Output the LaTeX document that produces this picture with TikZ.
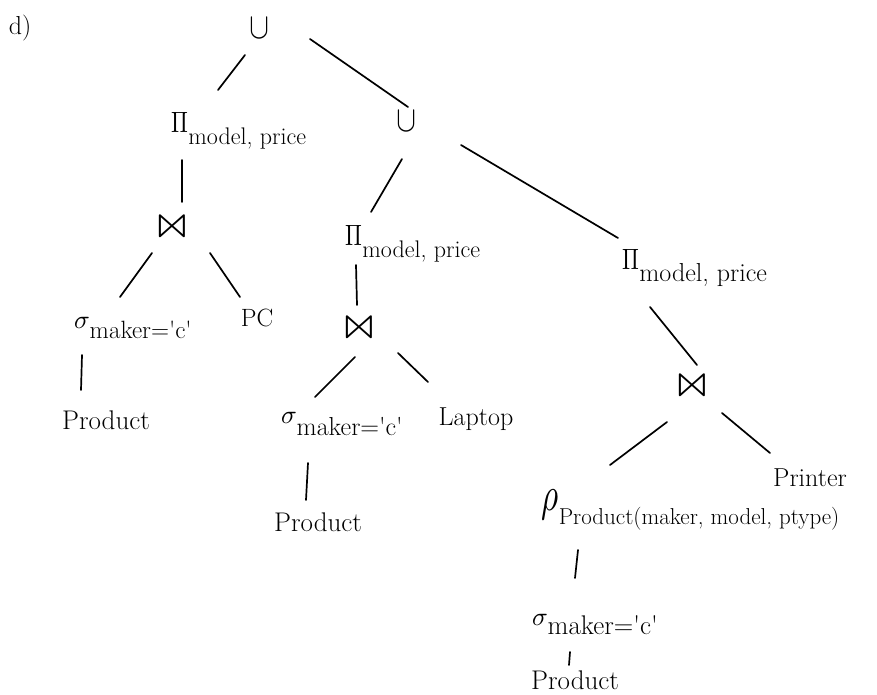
\documentclass[tikz,border=0pt]{standalone}
\usepackage{unicode-math}
\newcommand{\fs}[1]{\fontsize{#1}{#1}\selectfont}
\newcommand{\qq}{\textquotesingle}
\newcommand{\opsub}[3]{#1\rlap{\smash{\raisebox{#2}{#3}}}}
\newcommand{\bigpi}{\scalebox{0.8}[1.05]{\fs{28}$\Pi$}}
\newcommand{\bigbt}{\scalebox{1.7}[1.5]{\fs{30}$\bowtie$}}
\begin{document}
\begin{tikzpicture}[x=1pt,y=-1pt,
  lbl/.style={inner sep=0pt,font=\fs{26}},
  edge/.style={line width=1.7pt,line cap=round}]
\useasboundingbox (0,0) rectangle (877,695);
\node[lbl] (d) at (20,28) {d)};
\node[lbl] (u1) at (260,28) {\scalebox{1}[1.2]{\fs{30}$\cup$}};
\node[lbl] (p1) at (180,123) {\opsub{\bigpi}{-12pt}{\fs{24}model, price}};
\node[lbl] (j1) at (172,226) {\bigbt};
\node[lbl] (s1) at (82,323) {\opsub{$\sigma$}{-10pt}{\fs{25}maker=\qq c\qq}};
\node[lbl,font=\fs{25}] (pc) at (257,318) {PC};
\node[lbl,font=\fs{27}] (prod1) at (106,420) {Product};
\node[lbl] (u2) at (406,121) {\scalebox{1}[1.2]{\fs{30}$\cup$}};
\node[lbl] (p2) at (354,236) {\opsub{\bigpi}{-12pt}{\fs{24}model, price}};
\node[lbl] (j2) at (359,327) {\bigbt};
\node[lbl] (s2) at (289,418) {\opsub{$\sigma$}{-12pt}{\fs{26}maker=\qq c\qq}};
\node[lbl] (lap) at (476,419) {Laptop};
\node[lbl,font=\fs{27}] (prod2) at (318,522) {Product};
\node[lbl] (p3) at (631,260) {\opsub{\bigpi}{-12pt}{\fs{26}model, price}};
\node[lbl] (j3) at (692,385) {\bigbt};
\node[lbl,font=\fs{26}] (pr) at (810,478) {Printer};
\node[lbl] (rho) at (550,505) {\opsub{\scalebox{1.1}[1.6]{\fs{30}$\rho$}}{-14pt}{\fs{23}Product(maker, model, ptype)}};
\node[lbl] (s3) at (540,620) {\opsub{$\sigma$}{-9pt}{\fs{27}maker=\qq c\qq}};
\node[lbl,font=\fs{27}] (prod3) at (575,680) {Product};
% connectors
\draw[edge] ([shift={(-15,27)}]u1.center) -- ([shift={(38,-33)}]p1.center);
\draw[edge] ([shift={(50,11)}]u1.center) -- ([shift={(2,-14)}]u2.center);
\draw[edge] ([shift={(2,37)}]p1.center) -- ([shift={(10,-24)}]j1.center);
\draw[edge] ([shift={(-20,27)}]j1.center) -- ([shift={(38,-26)}]s1.center);
\draw[edge] ([shift={(38,27)}]j1.center) -- ([shift={(-17,-21)}]pc.center);
\draw[edge] ([shift={(0,32)}]s1.center) -- ([shift={(-25,-30)}]prod1.center);
\draw[edge] ([shift={(-4,38)}]u2.center) -- ([shift={(17,-24)}]p2.center);
\draw[edge] ([shift={(55,24)}]u2.center) -- ([shift={(-13,-22)}]p3.center);
\draw[edge] ([shift={(2,29)}]p2.center) -- ([shift={(-2,-22)}]j2.center);
\draw[edge] ([shift={(-4,30)}]j2.center) -- ([shift={(26,-21)}]s2.center);
\draw[edge] ([shift={(39,26)}]j2.center) -- ([shift={(-48,-37)}]lap.center);
\draw[edge] ([shift={(19,45)}]s2.center) -- ([shift={(-12,-22)}]prod2.center);
\draw[edge] ([shift={(19,47)}]p3.center) -- ([shift={(5,-20)}]j3.center);
\draw[edge] ([shift={(-25,37)}]j3.center) -- ([shift={(60,-40)}]rho.center);
\draw[edge] ([shift={(30,28)}]j3.center) -- ([shift={(-40,-25)}]pr.center);
\draw[edge] ([shift={(28,45)}]rho.center) -- ([shift={(35,-42)}]s3.center);
\draw[edge] ([shift={(30,32)}]s3.center) -- ([shift={(-6,-15)}]prod3.center);
\end{tikzpicture}
\end{document}
